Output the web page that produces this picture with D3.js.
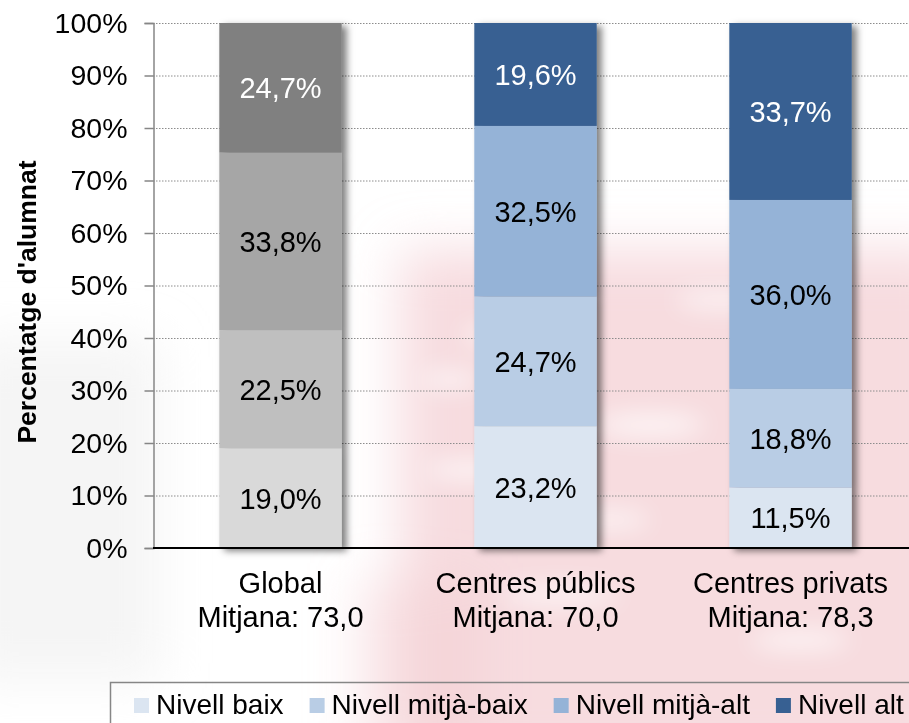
<!DOCTYPE html>
<html>
<head>
<meta charset="utf-8">
<script src="https://cdn.jsdelivr.net/npm/d3@7"></script>
<style>
  html, body { margin: 0; padding: 0; background: #ffffff; }
  svg { display: block; font-family: "Liberation Sans", Arial, sans-serif; }
</style>
</head>
<body>
<svg id="chart" width="909" height="723"></svg>
<script>
// ---- Data ----
const categories = ["Global", "Centres públics", "Centres privats"];
const meanLabels = ["Mitjana: 73,0", "Mitjana: 70,0", "Mitjana: 78,3"];
const levels = ["Nivell baix", "Nivell mitjà-baix", "Nivell mitjà-alt", "Nivell alt"];
const nivellBaix = [19.0, 23.2, 11.5];
const nivellMitjaBaix = [22.5, 24.7, 18.8];
const nivellMitjaAlt = [33.8, 32.5, 36.0];
const nivellAlt = [24.7, 19.6, 33.7];
const yTickValues = [0, 10, 20, 30, 40, 50, 60, 70, 80, 90, 100];

const greyColors = ["#d9d9d9", "#bfbfbf", "#a6a6a6", "#808080"];
const blueColors = ["#dbe5f1", "#b9cde5", "#95b3d7", "#376092"];
const labelColors = ["#000", "#000", "#000", "#fff"];

const series = [nivellBaix, nivellMitjaBaix, nivellMitjaAlt, nivellAlt];
const rows = categories.map((c, i) => {
  const r = { category: c };
  levels.forEach((l, j) => r[l] = series[j][i]);
  return r;
});

const svg = d3.select("#chart");
const defs = svg.append("defs");

// watermark blur
defs.append("filter").attr("id", "wm").attr("x", "-50%").attr("y", "-50%").attr("width", "200%").attr("height", "200%")
  .append("feGaussianBlur").attr("stdDeviation", 26);
defs.append("filter").attr("id", "wm2").attr("x", "-50%").attr("y", "-50%").attr("width", "200%").attr("height", "200%")
  .append("feGaussianBlur").attr("stdDeviation", 12);
const sh = defs.append("filter").attr("id", "shadow").attr("x", "-20%").attr("y", "-10%").attr("width", "150%").attr("height", "120%");
sh.append("feDropShadow").attr("dx", 5).attr("dy", 3).attr("stdDeviation", 3.5)
  .attr("flood-color", "#000").attr("flood-opacity", 0.5);

// ---- faint background watermark ----
const wm = svg.append("g").attr("filter", "url(#wm)");
wm.append("rect").attr("x", 400).attr("y", 250).attr("width", 560).attr("height", 520)
  .attr("fill", "#f4cdd2").attr("opacity", 0.7);
wm.append("rect").attr("x", 360).attr("y", 580).attr("width", 120).attr("height", 170)
  .attr("fill", "#f4cdd2").attr("opacity", 0.5);
wm.append("rect").attr("x", -40).attr("y", 340).attr("width", 200).attr("height", 340)
  .attr("fill", "#ececec").attr("opacity", 0.5);
const wm2 = svg.append("g").attr("filter", "url(#wm2)");
[[520, 335, 60, 10], [650, 425, 55, 12], [470, 470, 45, 10], [560, 595, 60, 10], [720, 300, 45, 9], [610, 520, 40, 9], [800, 640, 50, 10], [450, 380, 30, 9]]
  .forEach(d => wm2.append("ellipse").attr("cx", d[0]).attr("cy", d[1]).attr("rx", d[2]).attr("ry", d[3])
    .attr("fill", "#fff").attr("opacity", 0.7));

// ---- Scales ----
const x = d3.scaleBand().domain(categories).range([153, 918]).paddingInner(0.52).paddingOuter(0.26);
const y = d3.scaleLinear().domain([0, 100]).range([548, 23]);

// gridlines
svg.append("g").selectAll("line").data(yTickValues.filter(v => v > 0)).join("line")
  .attr("x1", 153).attr("x2", 909)
  .attr("y1", d => y(d) + 0.5).attr("y2", d => y(d) + 0.5)
  .attr("stroke", "#8c8c8c").attr("stroke-width", 1).attr("stroke-dasharray", "1.5,1.5");

// ---- stacked bars ----
const stack = d3.stack().keys(levels);
const stacked = stack(rows);

const barGroups = svg.append("g").selectAll("g.bar").data(categories).join("g")
  .attr("class", "bar").attr("filter", "url(#shadow)");
barGroups.each(function(cat, ci) {
  const g = d3.select(this);
  const colors = ci === 0 ? greyColors : blueColors;
  stacked.forEach((layer, li) => {
    const seg = layer[ci];
    g.append("rect")
      .attr("x", x(cat)).attr("width", x.bandwidth())
      .attr("y", y(seg[1])).attr("height", y(seg[0]) - y(seg[1]))
      .attr("fill", colors[li]);
  });
});

// value labels
const fmt = v => d3.format(".1f")(v).replace(".", ",") + "%";
stacked.forEach((layer, li) => {
  svg.append("g").selectAll("text").data(layer).join("text")
    .attr("x", (d, i) => x(categories[i]) + x.bandwidth() / 2)
    .attr("y", d => y((d[0] + d[1]) / 2))
    .attr("dy", "0.36em")
    .attr("text-anchor", "middle")
    .attr("font-size", 29)
    .attr("fill", labelColors[li])
    .text(d => fmt(d[1] - d[0]));
});

// ---- Axes ----
const yAxis = d3.axisLeft(y).tickValues(yTickValues).tickFormat(d => d + "%")
  .tickSize(9).tickPadding(17);
const yg = svg.append("g").attr("transform", "translate(153.5,0)").call(yAxis);
yg.select(".domain").attr("stroke", "#868686").attr("stroke-width", 1.5);
yg.selectAll(".tick line").attr("stroke", "#868686").attr("stroke-width", 1.5);
yg.selectAll(".tick text").attr("font-size", 28.5).attr("fill", "#000")
  .attr("font-family", "Liberation Sans, Arial, sans-serif");

// x axis line
svg.append("line").attr("x1", 153).attr("x2", 909).attr("y1", y(0)).attr("y2", y(0))
  .attr("stroke", "#000").attr("stroke-width", 2);

// category labels
const catG = svg.append("g").selectAll("text").data(categories).join("text")
  .attr("x", d => x(d) + x.bandwidth() / 2)
  .attr("y", 593)
  .attr("text-anchor", "middle").attr("font-size", 29).attr("fill", "#000");
catG.append("tspan").text(d => d);
catG.append("tspan").attr("x", d => x(d) + x.bandwidth() / 2).attr("dy", 34)
  .text((d, i) => meanLabels[i]);

// y axis title
svg.append("text")
  .attr("transform", "translate(36,302) rotate(-90)")
  .attr("text-anchor", "middle").attr("font-size", 26.5).attr("font-weight", "bold")
  .attr("fill", "#000").text("Percentatge d'alumnat");

// ---- Legend ----
svg.append("rect").attr("x", 110.5).attr("y", 682.5).attr("width", 820).attr("height", 60)
  .attr("fill", "none").attr("stroke", "#868686").attr("stroke-width", 1.5);
const lg = svg.append("g");
let lx = 134;
levels.forEach((l, i) => {
  lg.append("rect").attr("x", lx).attr("y", 698).attr("width", 15).attr("height", 15).attr("fill", blueColors[i]);
  const t = lg.append("text").attr("x", lx + 22).attr("y", 714).attr("font-size", 28).attr("fill", "#000").text(l);
  lx = lx + 22 + t.node().getComputedTextLength() + 26;
});
</script>
</body>
</html>
